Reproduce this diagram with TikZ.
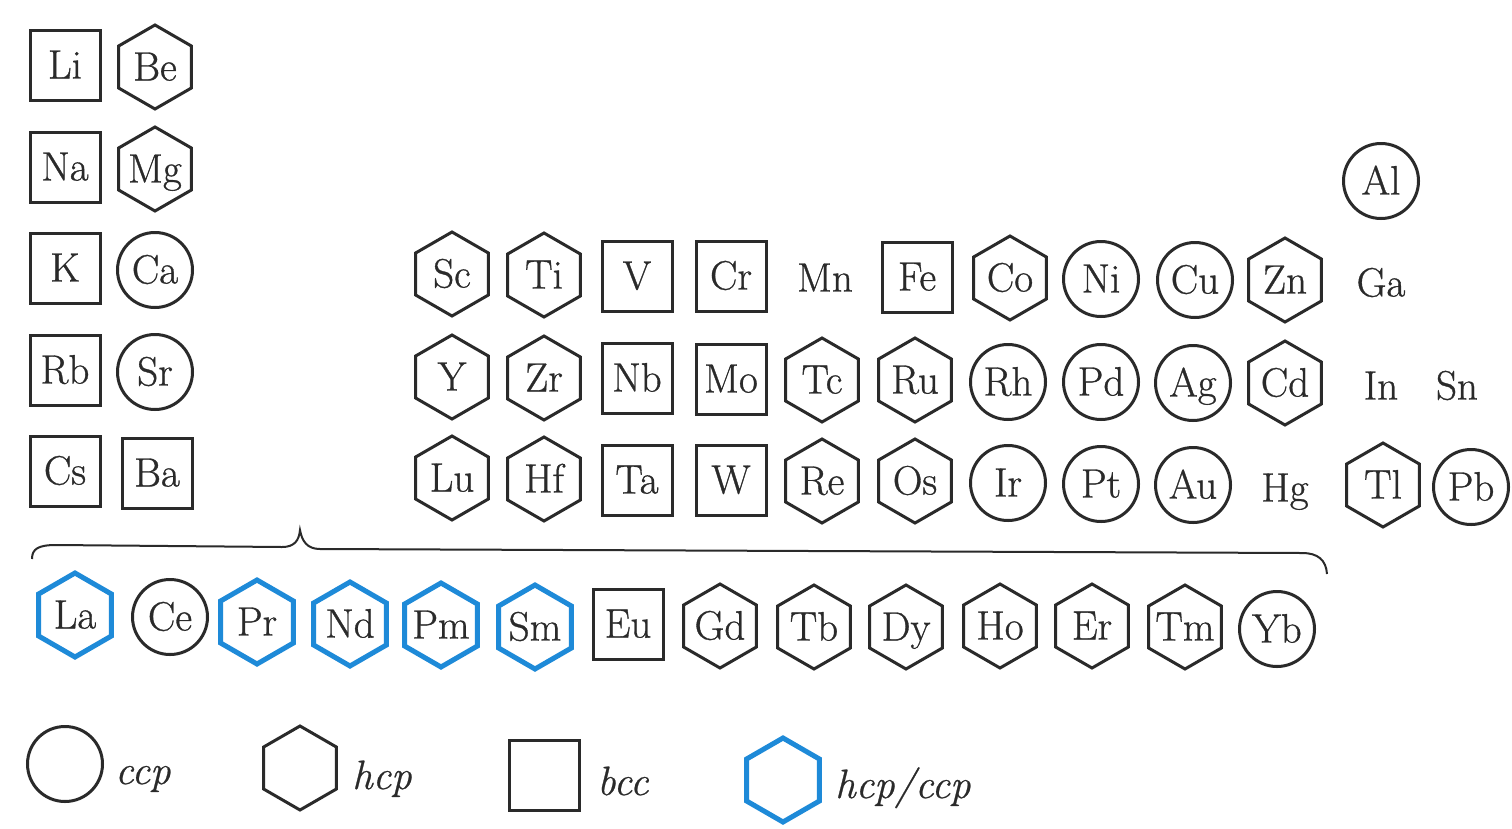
\documentclass[tikz,border=0pt]{standalone}
\usepackage{fontspec}
\newfontfamily\symfont{Latin Modern Roman}[FakeBold=0.8]
\newfontfamily\keyfont{Latin Modern Roman}[FakeBold=0.6]
\usetikzlibrary{shapes.geometric}
\definecolor{ink}{HTML}{2A2A2A}
\definecolor{mixblue}{HTML}{1E8AD8}
% symbol text that never widens its outline
\newcommand\elsym[1]{\makebox[0pt][c]{#1}}
\begin{document}
\begin{tikzpicture}[x=1pt,y=-1pt,
  sym/.style={font=\symfont\fontsize{41}{45}\selectfont, text=ink, inner sep=0pt,
              text height=27pt, text depth=0pt},
  ccp/.style={sym, circle, draw=ink, line width=3pt, minimum size=75pt},
  hcp/.style={sym, regular polygon, regular polygon sides=6,
              shape border rotate=30, draw=ink,
              line width=3pt, minimum size=84pt},
  bcc/.style={sym, rectangle, draw=ink, line width=3pt,
              minimum width=70pt, minimum height=70pt},
  mixed/.style={hcp, draw=mixblue, line width=5pt},
  bare/.style={sym},
  keytext/.style={font=\keyfont\fontsize{41}{45}\selectfont\itshape, text=ink,
                  inner sep=0pt, anchor=base west}
]
\useasboundingbox[fill=white] (0,0) rectangle (1512,828);

% groups 1 and 2
\node[bcc] (Li) at (65,65)  {\elsym{Li}};
\node[hcp] (Be) at (155,67) {\elsym{Be}};
\node[bcc] (Na) at (65,167) {\elsym{Na}};
\node[hcp] (Mg) at (155,169) {\elsym{Mg}};
\node[bcc] (K)  at (65,268) {\elsym{K}};
\node[ccp] (Ca) at (155,270) {\elsym{Ca}};
\node[bcc] (Rb) at (65,370) {\elsym{Rb}};
\node[ccp] (Sr) at (155,372) {\elsym{Sr}};
\node[bcc] (Cs) at (65,471) {\elsym{Cs}};
\node[bcc] (Ba) at (157,473) {\elsym{Ba}};

\node[ccp] (Al) at (1381,181) {\elsym{Al}};

% period 4
\node[hcp] (Sc) at (452,274)  {\elsym{Sc}};
\node[hcp] (Ti) at (544,275)  {\elsym{Ti}};
\node[bcc] (V)  at (637,276)  {\elsym{V}};
\node[bcc] (Cr) at (731,276)  {\elsym{Cr}};
\node[bare] (Mn) at (825,278) {\elsym{Mn}};
\node[bcc] (Fe) at (917,277)  {\elsym{Fe}};
\node[hcp] (Co) at (1010,278) {\elsym{Co}};
\node[ccp] (Ni) at (1101,279) {\elsym{Ni}};
\node[ccp] (Cu) at (1195,280) {\elsym{Cu}};
\node[hcp] (Zn) at (1285,280) {\elsym{Zn}};
\node[bare] (Ga) at (1381,283) {\elsym{Ga}};

% period 5
\node[hcp] (Y)  at (452,377)  {\elsym{Y}};
\node[hcp] (Zr) at (544,378)  {\elsym{Zr}};
\node[bcc] (Nb) at (637,378)  {\elsym{Nb}};
\node[bcc] (Mo) at (731,379)  {\elsym{Mo}};
\node[hcp] (Tc) at (822,380)  {\elsym{Tc}};
\node[hcp] (Ru) at (915,380)  {\elsym{Ru}};
\node[ccp] (Rh) at (1008,382) {\elsym{Rh}};
\node[ccp] (Pd) at (1101,382) {\elsym{Pd}};
\node[ccp] (Ag) at (1193,383) {\elsym{Ag}};
\node[hcp] (Cd) at (1285,383) {\elsym{Cd}};
\node[bare] (In) at (1381,386) {\elsym{In}};
\node[bare] (Sn) at (1457,386) {\elsym{Sn}};

% period 6
\node[hcp] (Lu) at (452,478)  {\elsym{Lu}};
\node[hcp] (Hf) at (544,479)  {\elsym{Hf}};
\node[bcc] (Ta) at (637,480)  {\elsym{Ta}};
\node[bcc] (W)  at (731,480)  {\elsym{W}};
\node[hcp] (Re) at (822,481)  {\elsym{Re}};
\node[hcp] (Os) at (915,481)  {\elsym{Os}};
\node[ccp] (Ir) at (1008,483) {\elsym{Ir}};
\node[ccp] (Pt) at (1101,484) {\elsym{Pt}};
\node[ccp] (Au) at (1193,485) {\elsym{Au}};
\node[bare] (Hg) at (1285,488) {\elsym{Hg}};
\node[hcp] (Tl) at (1383,485) {\elsym{Tl}};
\node[ccp] (Pb) at (1471,487) {\elsym{Pb}};

% brace over the lanthanides
\draw[ink, line width=2pt]
  (32,559) .. controls (32,549) and (38,545) .. (56,545)
  -- (282,547) .. controls (294,547) and (299,541) .. (300,530)
  .. controls (302,541) and (307,549) .. (320,549)
  -- (1302,553) .. controls (1318,553) and (1326,560) .. (1327,574);

% lanthanides
\node[mixed] (La) at (75,615)  {\elsym{La}};
\node[ccp]   (Ce) at (170,617) {\elsym{Ce}};
\node[mixed] (Pr) at (257,622) {\elsym{Pr}};
\node[mixed] (Nd) at (350,624) {\elsym{Nd}};
\node[mixed] (Pm) at (441,625) {\elsym{Pm}};
\node[mixed] (Sm) at (535,627) {\elsym{Sm}};
\node[bcc]   (Eu) at (628,624) {\elsym{Eu}};
\node[hcp]   (Gd) at (720,626) {\elsym{Gd}};
\node[hcp]   (Tb) at (814,627) {\elsym{Tb}};
\node[hcp]   (Dy) at (906,627) {\elsym{Dy}};
\node[hcp]   (Ho) at (1000,626) {\elsym{Ho}};
\node[hcp]   (Er) at (1092,626) {\elsym{Er}};
\node[hcp]   (Tm) at (1185,627) {\elsym{Tm}};
\node[ccp]   (Yb) at (1277,629) {\elsym{Yb}};

% key
\node[ccp]   (key-ccp)   at (65,764)  {};
\node[keytext] (lbl-ccp)   at (115,784) {ccp};
\node[hcp]   (key-hcp)   at (300,768) {};
\node[keytext] (lbl-hcp)   at (352,789) {hcp};
\node[bcc]   (key-bcc)   at (544,775) {};
\node[keytext] (lbl-bcc)   at (597,795) {bcc};
\node[mixed] (key-mixed) at (783,780) {};
\node[keytext] (lbl-mixed) at (835,798) {hcp/ccp};
\end{tikzpicture}
\end{document}
